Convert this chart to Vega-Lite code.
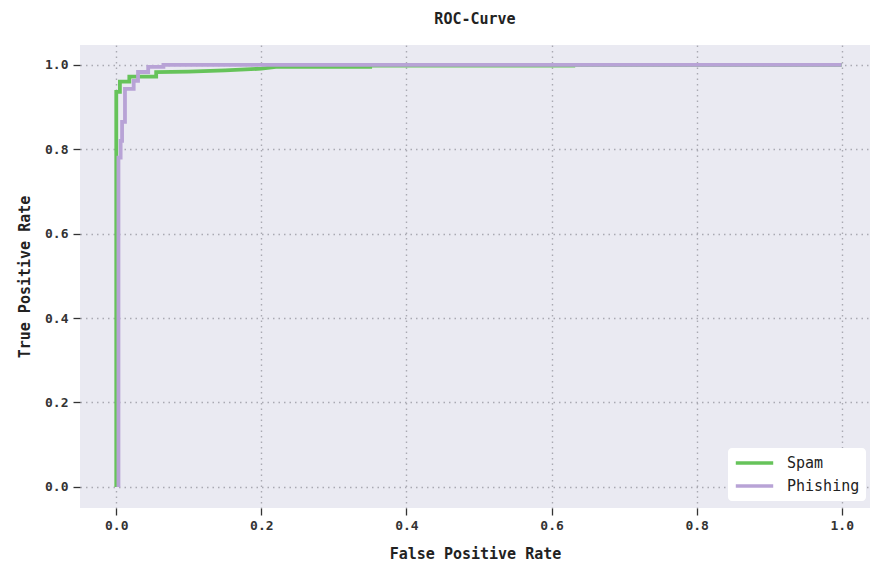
{
  "$schema": "https://vega.github.io/schema/vega-lite/v6.json",
  "width": 790,
  "height": 463,
  "autosize": {"type": "none"},
  "padding": {"left": 80, "top": 45, "right": 0, "bottom": 60},
  "background": "white",
  "title": {"text": "ROC-Curve", "font": "DejaVu Sans Mono", "fontSize": 15, "fontWeight": "bold", "color": "#222", "offset": 18, "anchor": "middle"},
  "config": {
    "view": {"fill": "#eaeaf2", "stroke": null},
    "axis": {
      "labelFont": "DejaVu Sans Mono", "labelFontSize": 13, "labelColor": "#333", "labelFontWeight": "bold",
      "titleFont": "DejaVu Sans Mono", "titleFontSize": 15, "titleFontWeight": "bold", "titleColor": "#222",
      "domain": false, "tickColor": "#333", "tickSize": 7, "tickWidth": 1.3,
      "gridColor": "#a9a9b2", "gridDash": [1.5, 4], "gridWidth": 1.4
    }
  },
  "data": {"values": [
    {"fpr": 0, "tpr": 0, "cls": "Spam"},
    {"fpr": 0, "tpr": 0.936, "cls": "Spam"},
    {"fpr": 0.005, "tpr": 0.936, "cls": "Spam"},
    {"fpr": 0.005, "tpr": 0.96, "cls": "Spam"},
    {"fpr": 0.018, "tpr": 0.96, "cls": "Spam"},
    {"fpr": 0.018, "tpr": 0.972, "cls": "Spam"},
    {"fpr": 0.055, "tpr": 0.972, "cls": "Spam"},
    {"fpr": 0.055, "tpr": 0.983, "cls": "Spam"},
    {"fpr": 0.1, "tpr": 0.984, "cls": "Spam"},
    {"fpr": 0.15, "tpr": 0.987, "cls": "Spam"},
    {"fpr": 0.2, "tpr": 0.991, "cls": "Spam"},
    {"fpr": 0.22, "tpr": 0.995, "cls": "Spam"},
    {"fpr": 0.35, "tpr": 0.995, "cls": "Spam"},
    {"fpr": 0.35, "tpr": 0.998, "cls": "Spam"},
    {"fpr": 0.63, "tpr": 0.998, "cls": "Spam"},
    {"fpr": 0.63, "tpr": 1.0, "cls": "Spam"},
    {"fpr": 1.0, "tpr": 1.0, "cls": "Spam"},
    {"fpr": 0.003, "tpr": 0, "cls": "Phishing"},
    {"fpr": 0.003, "tpr": 0.78, "cls": "Phishing"},
    {"fpr": 0.006, "tpr": 0.78, "cls": "Phishing"},
    {"fpr": 0.006, "tpr": 0.82, "cls": "Phishing"},
    {"fpr": 0.008, "tpr": 0.82, "cls": "Phishing"},
    {"fpr": 0.008, "tpr": 0.865, "cls": "Phishing"},
    {"fpr": 0.012, "tpr": 0.865, "cls": "Phishing"},
    {"fpr": 0.012, "tpr": 0.943, "cls": "Phishing"},
    {"fpr": 0.024, "tpr": 0.943, "cls": "Phishing"},
    {"fpr": 0.024, "tpr": 0.962, "cls": "Phishing"},
    {"fpr": 0.03, "tpr": 0.962, "cls": "Phishing"},
    {"fpr": 0.03, "tpr": 0.983, "cls": "Phishing"},
    {"fpr": 0.044, "tpr": 0.983, "cls": "Phishing"},
    {"fpr": 0.044, "tpr": 0.995, "cls": "Phishing"},
    {"fpr": 0.065, "tpr": 0.995, "cls": "Phishing"},
    {"fpr": 0.065, "tpr": 1.0, "cls": "Phishing"},
    {"fpr": 1.0, "tpr": 1.0, "cls": "Phishing"}
  ]},
  "mark": {"type": "line", "strokeWidth": 3.8, "interpolate": "linear"},
  "encoding": {
    "x": {"field": "fpr", "type": "quantitative", "scale": {"domain": [-0.05, 1.039], "nice": false, "zero": false},
      "axis": {"values": [0, 0.2, 0.4, 0.6, 0.8, 1.0], "format": ".1f", "title": "False Positive Rate", "titlePadding": 14, "labelPadding": 4}},
    "y": {"field": "tpr", "type": "quantitative", "scale": {"domain": [-0.05, 1.047], "nice": false, "zero": false},
      "axis": {"values": [0, 0.2, 0.4, 0.6, 0.8, 1.0], "format": ".1f", "title": "True Positive Rate", "titlePadding": 12, "labelPadding": 5}},
    "color": {"field": "cls", "type": "nominal",
      "scale": {"domain": ["Spam", "Phishing"], "range": ["#66c35a", "#b8a3d6"]},
      "legend": {"title": null, "orient": "none", "legendX": 648, "legendY": 403,
        "symbolType": "stroke", "symbolStrokeWidth": 3.5, "symbolSize": 1400,
        "labelFont": "DejaVu Sans Mono", "labelFontSize": 15, "labelColor": "#222",
        "fillColor": "white", "cornerRadius": 4, "padding": 6, "rowPadding": 5, "clipHeight": 18, "labelOffset": 12}
    },
    "order": {"field": "fpr"}
  }
}
